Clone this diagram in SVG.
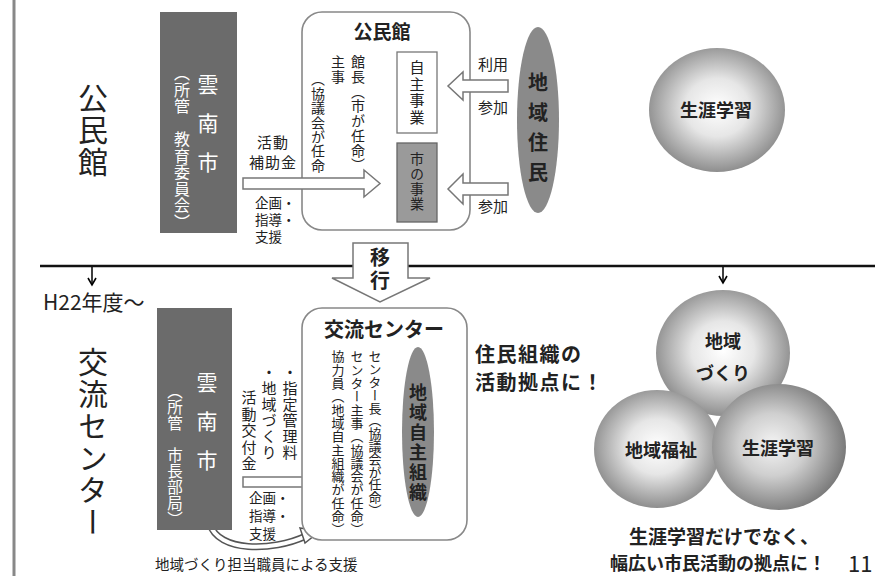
<svg xmlns="http://www.w3.org/2000/svg" width="878" height="576" viewBox="0 0 878 576">
<defs>
<radialGradient id="sph" cx="50%" cy="48%" r="52%">
<stop offset="0" stop-color="#ffffff"/>
<stop offset="0.45" stop-color="#e6e6e6"/>
<stop offset="1" stop-color="#8e8e8e"/>
</radialGradient>
<radialGradient id="sph2" cx="45%" cy="48%" r="55%">
<stop offset="0" stop-color="#f4f4f4"/>
<stop offset="0.45" stop-color="#cfcfcf"/>
<stop offset="1" stop-color="#7a7a7a"/>
</radialGradient>
<marker id="tip" markerWidth="10" markerHeight="10" refX="8" refY="5" orient="auto" markerUnits="userSpaceOnUse">
<path d="M1,1 L8,5 L1,9" fill="none" stroke="#000" stroke-width="1.6"/>
</marker>
</defs>
<style>
text{font-family:"Noto Sans CJK JP","Noto Sans",sans-serif;fill:#222}
.v{writing-mode:vertical-rl}
.b{font-weight:bold}
.w{fill:#fff}
.hollow{fill:#fff;stroke:#777;stroke-width:1.5}
.box{fill:#fff;stroke:#888;stroke-width:1.6}
.dark{fill:#6b6b6b}
.ell{fill:#8a8a8a}
.s{font-size:13.5px}
</style>
<rect width="878" height="576" fill="#fff"/>
<line x1="14" y1="0" x2="14" y2="576" stroke="#888" stroke-width="3"/>

<!-- top section -->
<text class="v" x="93" y="83" font-size="30" letter-spacing="2">公民館</text>

<g id="city-top">
<rect class="dark" x="160" y="12" width="77" height="221"/>
<text class="v w" x="208" y="74" font-size="21" letter-spacing="18">雲南市</text>
<text class="v w" x="182" y="65" font-size="16" letter-spacing="0.5">（所管　教育委員会）</text>
</g>

<g id="kominkan">
<rect class="box" x="302" y="12" width="168" height="218" rx="20"/>
<text class="b" x="382" y="39" font-size="19" text-anchor="middle">公民館</text>
<text class="v" x="358" y="55" font-size="14" letter-spacing="0.7">館長（市が任命）</text>
<text class="v" x="338" y="55" font-size="14" letter-spacing="0.7">主事</text>
<text class="v" x="318" y="72" font-size="14" letter-spacing="0.4">（協議会が任命</text>
</g>
<g id="jishu">
<rect x="397" y="52" width="40" height="81" fill="#fff" stroke="#777" stroke-width="1.3"/>
<text class="v" x="417" y="60" font-size="15" letter-spacing="1.5">自主事業</text>
</g>
<g id="shijigyo">
<rect x="397" y="143" width="40" height="79" fill="#9a9a9a" stroke="#666" stroke-width="1.3"/>
<text class="v" x="417" y="152" font-size="14" letter-spacing="1">市の事業</text>
</g>
<g id="jumin">
<ellipse class="ell" cx="538" cy="120" rx="21" ry="93"/>
<text class="v b" x="538" y="72" font-size="20" letter-spacing="10">地域住民</text>
</g>
<g id="sphere-top">
<ellipse cx="717" cy="110" rx="68" ry="62" fill="url(#sph)"/>
<text class="b" x="716" y="117" font-size="18" text-anchor="middle">生涯学習</text>
</g>

<g id="connectors">
<polygon class="hollow" points="243,178 364,178 364,170 380,183.5 364,197 364,189 243,189"/>
<polygon class="hollow" points="508,80 463,80 463,72 448,86 463,100 463,92 508,92"/>
<polygon class="hollow" points="508,183 463,183 463,174 448,189 463,204 463,195 508,195"/>
<line x1="40" y1="266" x2="353" y2="266" stroke="#111" stroke-width="2.5"/>
<line x1="408" y1="266" x2="875" y2="266" stroke="#111" stroke-width="2.5"/>
<line x1="92" y1="267" x2="92" y2="285" stroke="#000" stroke-width="1.5" marker-end="url(#tip)"/>
<line x1="723" y1="267" x2="723" y2="283" stroke="#000" stroke-width="1.5" marker-end="url(#tip)"/>
<polygon class="hollow" points="353,243 408,243 408,278 430,278 380,302 332,278 353,278"/>
<polygon class="hollow" points="243,477 308,477 308,470 322,482 308,494 308,487 243,487"/>
<path d="M210,524 C218,552 272,552 306,536" fill="none" stroke="#555" stroke-width="7"/>
<path d="M210,524 C218,552 272,552 306,536" fill="none" stroke="#fff" stroke-width="4"/>
<polygon points="300,528 320,531 305,543" fill="#fff" stroke="#555" stroke-width="1.5"/>
</g>

<text x="273" y="148" font-size="15" text-anchor="middle" letter-spacing="1">活動</text>
<text x="273" y="168" font-size="15" text-anchor="middle" letter-spacing="1">補助金</text>
<text class="s" x="255" y="208">企画・<tspan x="255" dy="17">指導・</tspan><tspan x="255" dy="17">支援</tspan></text>
<text x="493" y="70" font-size="15" text-anchor="middle">利用</text>
<text x="493" y="113" font-size="15" text-anchor="middle">参加</text>
<text x="493" y="212" font-size="15" text-anchor="middle">参加</text>
<text class="v b" x="380" y="247" font-size="20" letter-spacing="3">移行</text>

<!-- bottom section -->
<text x="43" y="310" font-size="21">H22年度～</text>
<text class="v" x="93" y="347" font-size="30" letter-spacing="2">交流センター</text>

<g id="city-bottom">
<rect class="dark" x="157" y="308" width="75" height="222"/>
<text class="v w" x="207" y="372" font-size="21" letter-spacing="18">雲南市</text>
<text class="v w" x="175" y="383" font-size="15.5" letter-spacing="0.5">（所管　市長部局）</text>
</g>
<text class="v" x="290" y="365" font-size="15" letter-spacing="1">・指定管理料</text>
<text class="v" x="269" y="365" font-size="15" letter-spacing="1">・地域づくり</text>
<text class="v" x="249" y="390" font-size="15" letter-spacing="1.5">活動交付金</text>
<text class="s" x="249" y="503">企画・<tspan x="249" dy="18">指導・</tspan><tspan x="249" dy="18">支援</tspan></text>
<text x="155" y="570" font-size="14.5">地域づくり担当職員による支援</text>

<g id="koryu">
<rect class="box" x="302" y="308" width="165" height="232" rx="20"/>
<text class="b" x="384" y="337" font-size="20" text-anchor="middle">交流センター</text>
<text class="v" x="375" y="350" font-size="13" letter-spacing="-0.2">センター長（協議会が任命）</text>
<text class="v" x="357" y="350" font-size="13" letter-spacing="0.3">センター主事（協議会が任命）</text>
<text class="v" x="338" y="350" font-size="13" letter-spacing="0.3">協力員（地域自主組織が任命）</text>
</g>
<g id="jishu-soshiki">
<ellipse class="ell" cx="418" cy="432" rx="16" ry="85"/>
<text class="v b" x="418" y="383" font-size="18" letter-spacing="2">地域自主組織</text>
</g>

<text class="b" x="475" y="362" font-size="20" letter-spacing="1.5">住民組織の</text>
<text class="b" x="475" y="390" font-size="20" letter-spacing="1.5">活動拠点に！</text>

<g id="sphere-chiiki">
<ellipse cx="723" cy="353" rx="67" ry="63" fill="url(#sph)"/>
<text class="b" x="723" y="348" font-size="18" text-anchor="middle">地域</text>
<text class="b" x="723" y="380" font-size="18" text-anchor="middle">づくり</text>
</g>
<g id="sphere-fukushi">
<ellipse cx="657" cy="449" rx="63" ry="59" fill="url(#sph)"/>
<text class="b" x="661" y="457" font-size="18" text-anchor="middle">地域福祉</text>
</g>
<g id="sphere-gakushu">
<ellipse cx="779" cy="447" rx="67" ry="63" fill="url(#sph2)"/>
<text class="b" x="778" y="455" font-size="18" text-anchor="middle">生涯学習</text>
</g>

<text class="b" x="724" y="544" font-size="19" text-anchor="middle">生涯学習だけでなく、</text>
<text class="b" x="610" y="570" font-size="18">幅広い市民活動の拠点に！</text>
<text x="848" y="572" font-size="22" font-family="Liberation Sans, sans-serif">11</text>
</svg>
